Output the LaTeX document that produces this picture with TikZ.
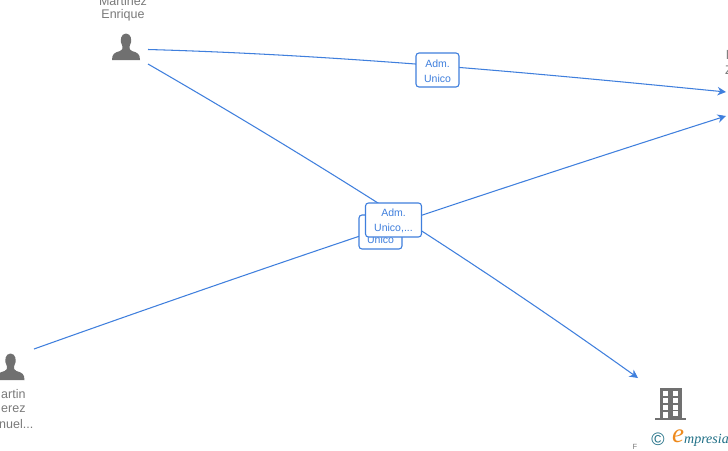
\documentclass[tikz,border=0pt]{standalone}
\usepackage{fontspec}
\setmainfont{Liberation Sans}
\newfontfamily\logoserif{Liberation Serif}
\usetikzlibrary{arrows.meta}
\definecolor{linkblue}{HTML}{3F7FDD}
\definecolor{icongray}{HTML}{707070}
\definecolor{labelgray}{HTML}{7A7A7A}
\definecolor{logoteal}{HTML}{1F6F86}
\definecolor{logoorange}{HTML}{EE8A1D}
\tikzset{
  x=1pt,y=-1pt,
  link/.style={draw=linkblue,line width=1.05pt,-{Stealth[length=8.5pt,width=8.5pt]}},
  rolebox/.style={draw=linkblue,line width=1.1pt,fill=white,rounded corners=3pt,align=center,
     text=linkblue,font=\fontsize{10.5}{15}\selectfont,inner sep=0pt},
  caption/.style={text=labelgray,font=\fontsize{12.5}{15}\selectfont,inner sep=0pt,align=center},
  iconfill/.style={fill=icongray,draw=none},
  person/.pic={
    \path[iconfill] (-3.5,-7) .. controls (-7,-13) and (-5,-20) .. (0,-20)
      .. controls (5,-20) and (7,-13) .. (3.5,-7)
      .. controls (3,-4.5) and (4,-3.5) .. (6,-2.5)
      .. controls (11,-1) and (14,0) .. (14,6.5) -- (-14,6.5)
      .. controls (-14,0) and (-11,-1) .. (-6,-2.5)
      .. controls (-4,-3.5) and (-3,-4.5) .. (-3.5,-7) -- cycle;
  }
}
\begin{document}
\begin{tikzpicture}
\useasboundingbox (0,0) rectangle (728,450);
\clip (0,0) rectangle (728,450);
\fill[white] (0,0) rectangle (728,450);
% anchors
\coordinate (aOut1) at (148,49.5);
\coordinate (aOut2) at (148,64);
\coordinate (bOut) at (34,349);
\coordinate (zIn1) at (726,92);
\coordinate (zIn2) at (726,116);
\coordinate (fIn) at (638,378);
% connectors
\draw[link] (aOut1) .. controls (341,55) and (533,73) .. (zIn1);
\draw[link] (aOut2) .. controls (316,161) and (480,265) .. (fIn);
\draw[link] (bOut) .. controls (264,267) and (494,190) .. (zIn2);
% labels
\node[rolebox,minimum width=43pt,minimum height=34pt] (r1) at (437.5,70) {\rule{0pt}{9.5pt}Adm.\\Unico};
\node[rolebox,minimum width=43pt,minimum height=34pt] (r2) at (380.5,232) {\rule{0pt}{24pt}Unico};
\node[rolebox,minimum width=56pt,minimum height=34pt] (r3) at (393.5,220) {\rule{0pt}{9.5pt}Adm.\\Unico,...};
% people
\pic at (126,53.5) {person};
\pic at (10.5,373.5) {person};
\node[caption] (n1) at (123,1) {Martinez};
\node[caption] (n2) at (123,15) {Enrique};
\node[caption,anchor=west] (n3) at (1,394.5) {artin};
\node[caption,anchor=west] (n4) at (1,409.5) {erez};
\node[caption,anchor=west] (n5) at (-1,424.5) {nuel...};
\node[caption,anchor=west] (n6) at (725,70) {Z};
\node[caption,anchor=west] (n7) at (726,55) {l};
\node[caption,font=\fontsize{7.5}{8}\selectfont] (n8) at (635,447) {F};
% building
\fill[icongray] (659.5,387.5) rectangle (682,418.5);
\fill[icongray] (654.5,418) rectangle (686,420);
\foreach \cx in {662.5,673} \foreach \cy in {391,398,405}
  \fill[white] (\cx,\cy) rectangle +(5,4.5);
\fill[white] (663,411.5) rectangle (667.5,418);
\fill[white] (673,411) rectangle (677.5,415.5);
% logo
\node[inner sep=0pt,text=logoteal,font=\fontsize{18}{18}\selectfont] (c) at (658,439) {©};
\node[inner sep=0pt,text=logoorange,font=\logoserif\itshape\fontsize{27}{27}\selectfont] (e) at (678,436.5) {e};
\node[inner sep=0pt,anchor=base west,text=logoteal,font=\logoserif\itshape\fontsize{14}{14}\selectfont] (m) at (684,443) {mpresia};
\end{tikzpicture}
\end{document}
